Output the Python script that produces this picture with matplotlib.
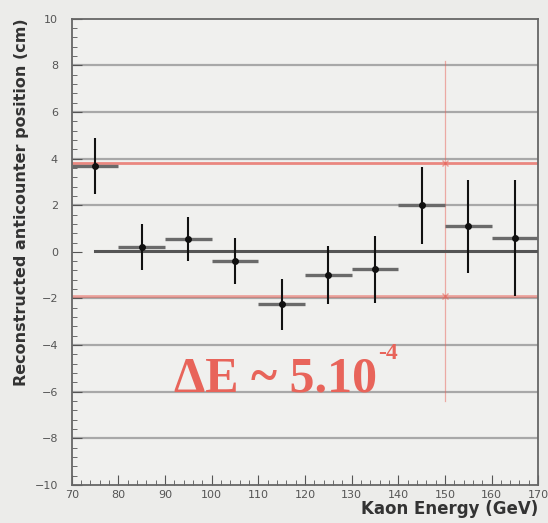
import numpy as np
import matplotlib.pyplot as plt

# data
energy = [75, 85, 95, 105, 115, 125, 135, 145, 155, 165]
position = [3.7, 0.2, 0.55, -0.4, -2.25, -1.0, -0.75, 2.0, 1.1, 0.6]
pos_err = [1.2, 1.0, 0.95, 1.0, 1.1, 1.25, 1.45, 1.65, 2.0, 2.5]
bin_half = [5] * 10

fit_level = 0.05
band_hi = 3.8
band_lo = -1.9
cut_energy = 150
cut_top, cut_bot = 8.2, -6.4

x_ticks = [70, 80, 90, 100, 110, 120, 130, 140, 150, 160, 170]
y_ticks = [-10, -8, -6, -4, -2, 0, 2, 4, 6, 8, 10]
grid_levels = [-8, -6, -4, -2, 2, 4, 6, 8]

bg = '#ececea'
red = '#e8645a'

fig = plt.figure(figsize=(5.48, 5.23), dpi=100, facecolor=bg)
ax = fig.add_axes([0.131, 0.073, 0.851, 0.891], facecolor='#f0f0ee')

for g in grid_levels:
    ax.axhline(g, color='#a8a8a8', lw=1.6, zorder=1)

ax.axhline(band_hi, color=red, lw=2.0, alpha=0.75, zorder=2)
ax.axhline(band_lo, color=red, lw=2.0, alpha=0.55, zorder=2)
ax.plot([energy[0], 170], [fit_level, fit_level], color='#555555', lw=2.2, zorder=3)

ax.plot([cut_energy, cut_energy], [cut_top, cut_bot], color=red, lw=0.9, alpha=0.5, zorder=2)
ax.plot([cut_energy, cut_energy], [band_hi, band_lo], ls='none', marker='x',
        ms=5, color=red, alpha=0.6, zorder=2)

ax.errorbar(energy, position, xerr=bin_half, fmt='none', ecolor='#6a6a6a',
            elinewidth=2.4, capsize=0, zorder=4)
ax.errorbar(energy, position, yerr=pos_err, fmt='o', color='#111111', ms=4,
            ecolor='#111111', elinewidth=1.5, capsize=0, zorder=5)

# big red annotation, main part + superscript
ax.text(135.4, -6.0, 'ΔE ~ 5.10', color=red, fontsize=36, fontweight='bold',
        family='Liberation Serif', ha='right', va='baseline', zorder=6)
ax.text(135.6, -4.6, '-4', color=red, fontsize=17, fontweight='bold',
        family='Liberation Serif', ha='left', va='baseline', zorder=6)

ax.set_xlim(70, 170)
ax.set_ylim(-10, 10)
ax.set_xticks(x_ticks)
ax.set_yticks(y_ticks)
ax.set_xticks(np.arange(70, 171, 2), minor=True)
ax.set_yticks(np.arange(-10, 10.1, 0.4), minor=True)
ax.tick_params(which='both', direction='in', colors='#555555', labelcolor='#555555',
               labelsize=8, top=False, right=False)
ax.tick_params(axis='y', which='major', pad=10)
ax.tick_params(which='major', length=7)
ax.tick_params(which='minor', length=3.5)
for s in ax.spines.values():
    s.set_color('#666666')
    s.set_linewidth(1.3)

ax.set_xlabel('Kaon Energy (GeV)', fontsize=12, fontweight='bold', color='#333333',
              loc='right', labelpad=0)
ax.set_ylabel('Reconstructed anticounter position (cm)', fontsize=11.5,
              fontweight='bold', color='#333333', loc='top', labelpad=4)

fig.savefig('out.png', dpi=100, facecolor=bg)
